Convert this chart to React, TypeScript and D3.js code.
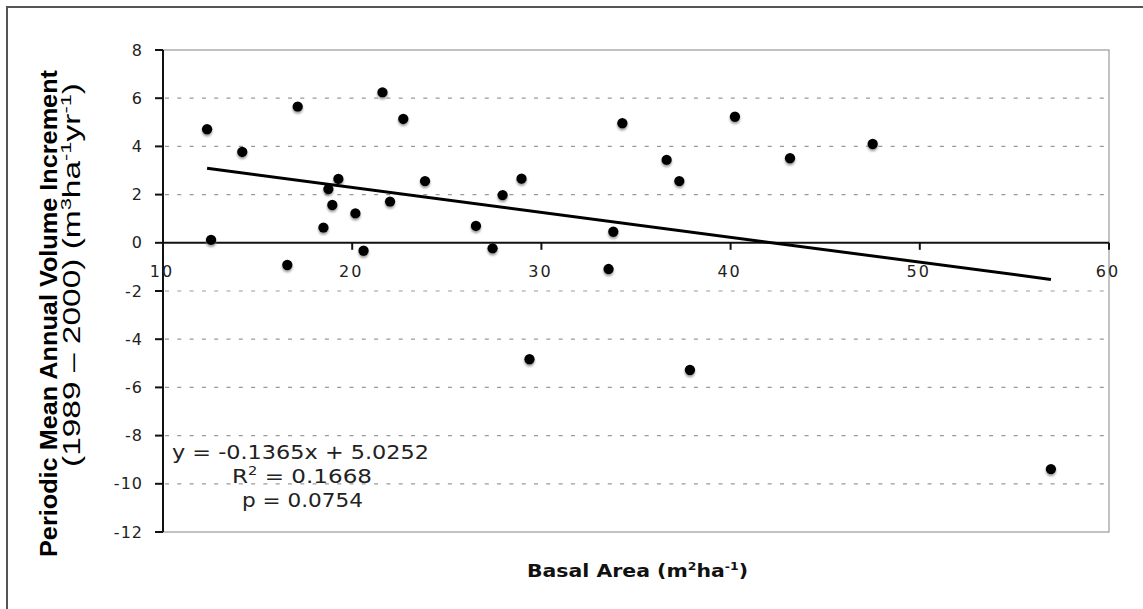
import React from "react";
import * as d3 from "d3";

const basalArea = [12.33, 12.54, 14.19, 16.57, 17.12, 18.48, 18.74, 18.95, 19.27, 20.17, 20.6, 21.6, 22.0, 22.7, 23.85, 26.54, 27.42, 27.95, 28.95, 29.37, 33.55, 33.8, 34.28, 36.62, 37.29, 37.85, 40.23, 43.14, 47.51, 56.93];
const volumeIncrement = [4.71, 0.12, 3.77, -0.92, 5.65, 0.63, 2.23, 1.57, 2.65, 1.22, -0.33, 6.24, 1.71, 5.14, 2.56, 0.7, -0.23, 1.98, 2.66, -4.83, -1.09, 0.46, 4.96, 3.44, 2.56, -5.28, 5.23, 3.51, 4.1, -9.39];
const trendX = [12.33, 56.93];
const trendY = [3.09, -1.52];
const xTicks = [10, 20, 30, 40, 50, 60];
const yTicks = [8, 6, 4, 2, 0, -2, -4, -6, -8, -10, -12];
const gridValues = [6, 4, 2, -2, -4, -6, -8, -10];
const statLines = ["y = -0.1365x + 5.0252", "R² = 0.1668", "p = 0.0754"];

const W = 1143;
const H = 609;
const L = 163, R = 1109, T = 50, B = 532;

export default function App() {
  const x = d3.scaleLinear().domain([10, 60]).range([L, R]);
  const y = d3.scaleLinear().domain([8, -12]).range([T, B]);
  const line = d3.line<number>().x((_, i) => x(trendX[i])).y((_, i) => y(trendY[i]));
  const y0 = y(0);
  const tickFont = "'DejaVu Sans', Verdana, sans-serif";
  return (
    <svg width={W} height={H} style={{ position: "absolute", left: 0, top: 0, background: "#fff" }} viewBox={`0 0 ${W} ${H}`}>
      <defs>
        <filter id="sh" x="-50%" y="-50%" width="200%" height="220%">
          <feDropShadow dx="0" dy="2" stdDeviation="1.3" floodColor="#777" floodOpacity="0.7" />
        </filter>
      </defs>
      <rect x={0} y={0} width={W} height={H} fill="#fff" />
      <rect x={7} y={7} width={1160} height={640} fill="none" stroke="#555" strokeWidth={2} />
      {/* plot border */}
      <rect x={L} y={T} width={R - L} height={B - T} fill="#fff" stroke="#999" strokeWidth={1.2} />
      {/* grid */}
      {gridValues.map((v) => (
        <line key={"g" + v} x1={L + 2} x2={R - 4} y1={y(v)} y2={y(v)} stroke="#999" strokeWidth={1.2} strokeDasharray="4,8.3" />
      ))}
      {/* y axis */}
      <line x1={L} x2={L} y1={T} y2={B} stroke="#111" strokeWidth={2} />
      {yTicks.map((v) => (
        <g key={"yt" + v}>
          <line x1={L - 8} x2={L} y1={y(v)} y2={y(v)} stroke="#111" strokeWidth={2} />
          <text x={143} y={y(v) + 5.5} textAnchor="end" fontFamily={tickFont} fontSize={16} letterSpacing={1} fill="#222">{v}</text>
        </g>
      ))}
      {/* x axis at zero */}
      <line x1={L} x2={R} y1={y0} y2={y0} stroke="#111" strokeWidth={2} />
      {xTicks.map((v) => (
        <g key={"xt" + v}>
          <line x1={x(v)} x2={x(v)} y1={y0} y2={y0 + 7} stroke="#111" strokeWidth={2} />
          <text x={x(v) - 1} y={277} textAnchor="middle" fontFamily={tickFont} fontSize={16} letterSpacing={2} fill="#222">{v}</text>
        </g>
      ))}
      {/* points */}
      {basalArea.map((b, i) => (
        <circle key={"p" + i} cx={x(b)} cy={y(volumeIncrement[i])} r={5.2} fill="#000" filter="url(#sh)" />
      ))}
      {/* trend line */}
      <path d={line(trendX) || ""} fill="none" stroke="#000" strokeWidth={3} />
      {/* stats */}
      <text x={172} y={459} fontFamily={tickFont} fontSize={19} textLength={257} lengthAdjust="spacingAndGlyphs" fill="#222">{statLines[0]}</text>
      <text x={232} y={483} fontFamily={tickFont} fontSize={19} fill="#222" textLength={140} lengthAdjust="spacingAndGlyphs">
        <tspan>R</tspan>
        <tspan dy={-8} fontSize={12}>2</tspan>
        <tspan dy={8}>{" = 0.1668"}</tspan>
      </text>
      <text x={242} y={507} fontFamily={tickFont} fontSize={19} textLength={121} lengthAdjust="spacingAndGlyphs" fill="#222">{statLines[2]}</text>
      {/* x title */}
      <text x={527} y={577} fontFamily={tickFont} fontWeight="bold" fontSize={18} fill="#111" textLength={221} lengthAdjust="spacingAndGlyphs">
        <tspan>Basal Area (m</tspan>
        <tspan dy={-7} fontSize={11}>2</tspan>
        <tspan dy={7}>ha</tspan>
        <tspan dy={-7} fontSize={11}>-1</tspan>
        <tspan dy={7}>)</tspan>
      </text>
      {/* y title */}
      <g transform="translate(57,557) rotate(-90)">
        <text x={0} y={0} fontFamily="'Liberation Sans', Arial, sans-serif" fontWeight="bold" fontSize={23} fill="#000" textLength={487} lengthAdjust="spacingAndGlyphs">Periodic Mean Annual Volume Increment</text>
      </g>
      <g transform="translate(80,467) rotate(-90)">
        <text x={0} y={0} fontFamily="'Liberation Sans', Arial, sans-serif" fontSize={23} fill="#000" textLength={384} lengthAdjust="spacingAndGlyphs">
          <tspan>(1989 – 2000)    (m</tspan>
          <tspan dy={-9} fontSize={15}>3</tspan>
          <tspan dy={9}>ha</tspan>
          <tspan dy={-9} fontSize={15}>-1</tspan>
          <tspan dy={9}>yr</tspan>
          <tspan dy={-9} fontSize={15}>-1</tspan>
          <tspan dy={9}>)</tspan>
        </text>
      </g>
    </svg>
  );
}
